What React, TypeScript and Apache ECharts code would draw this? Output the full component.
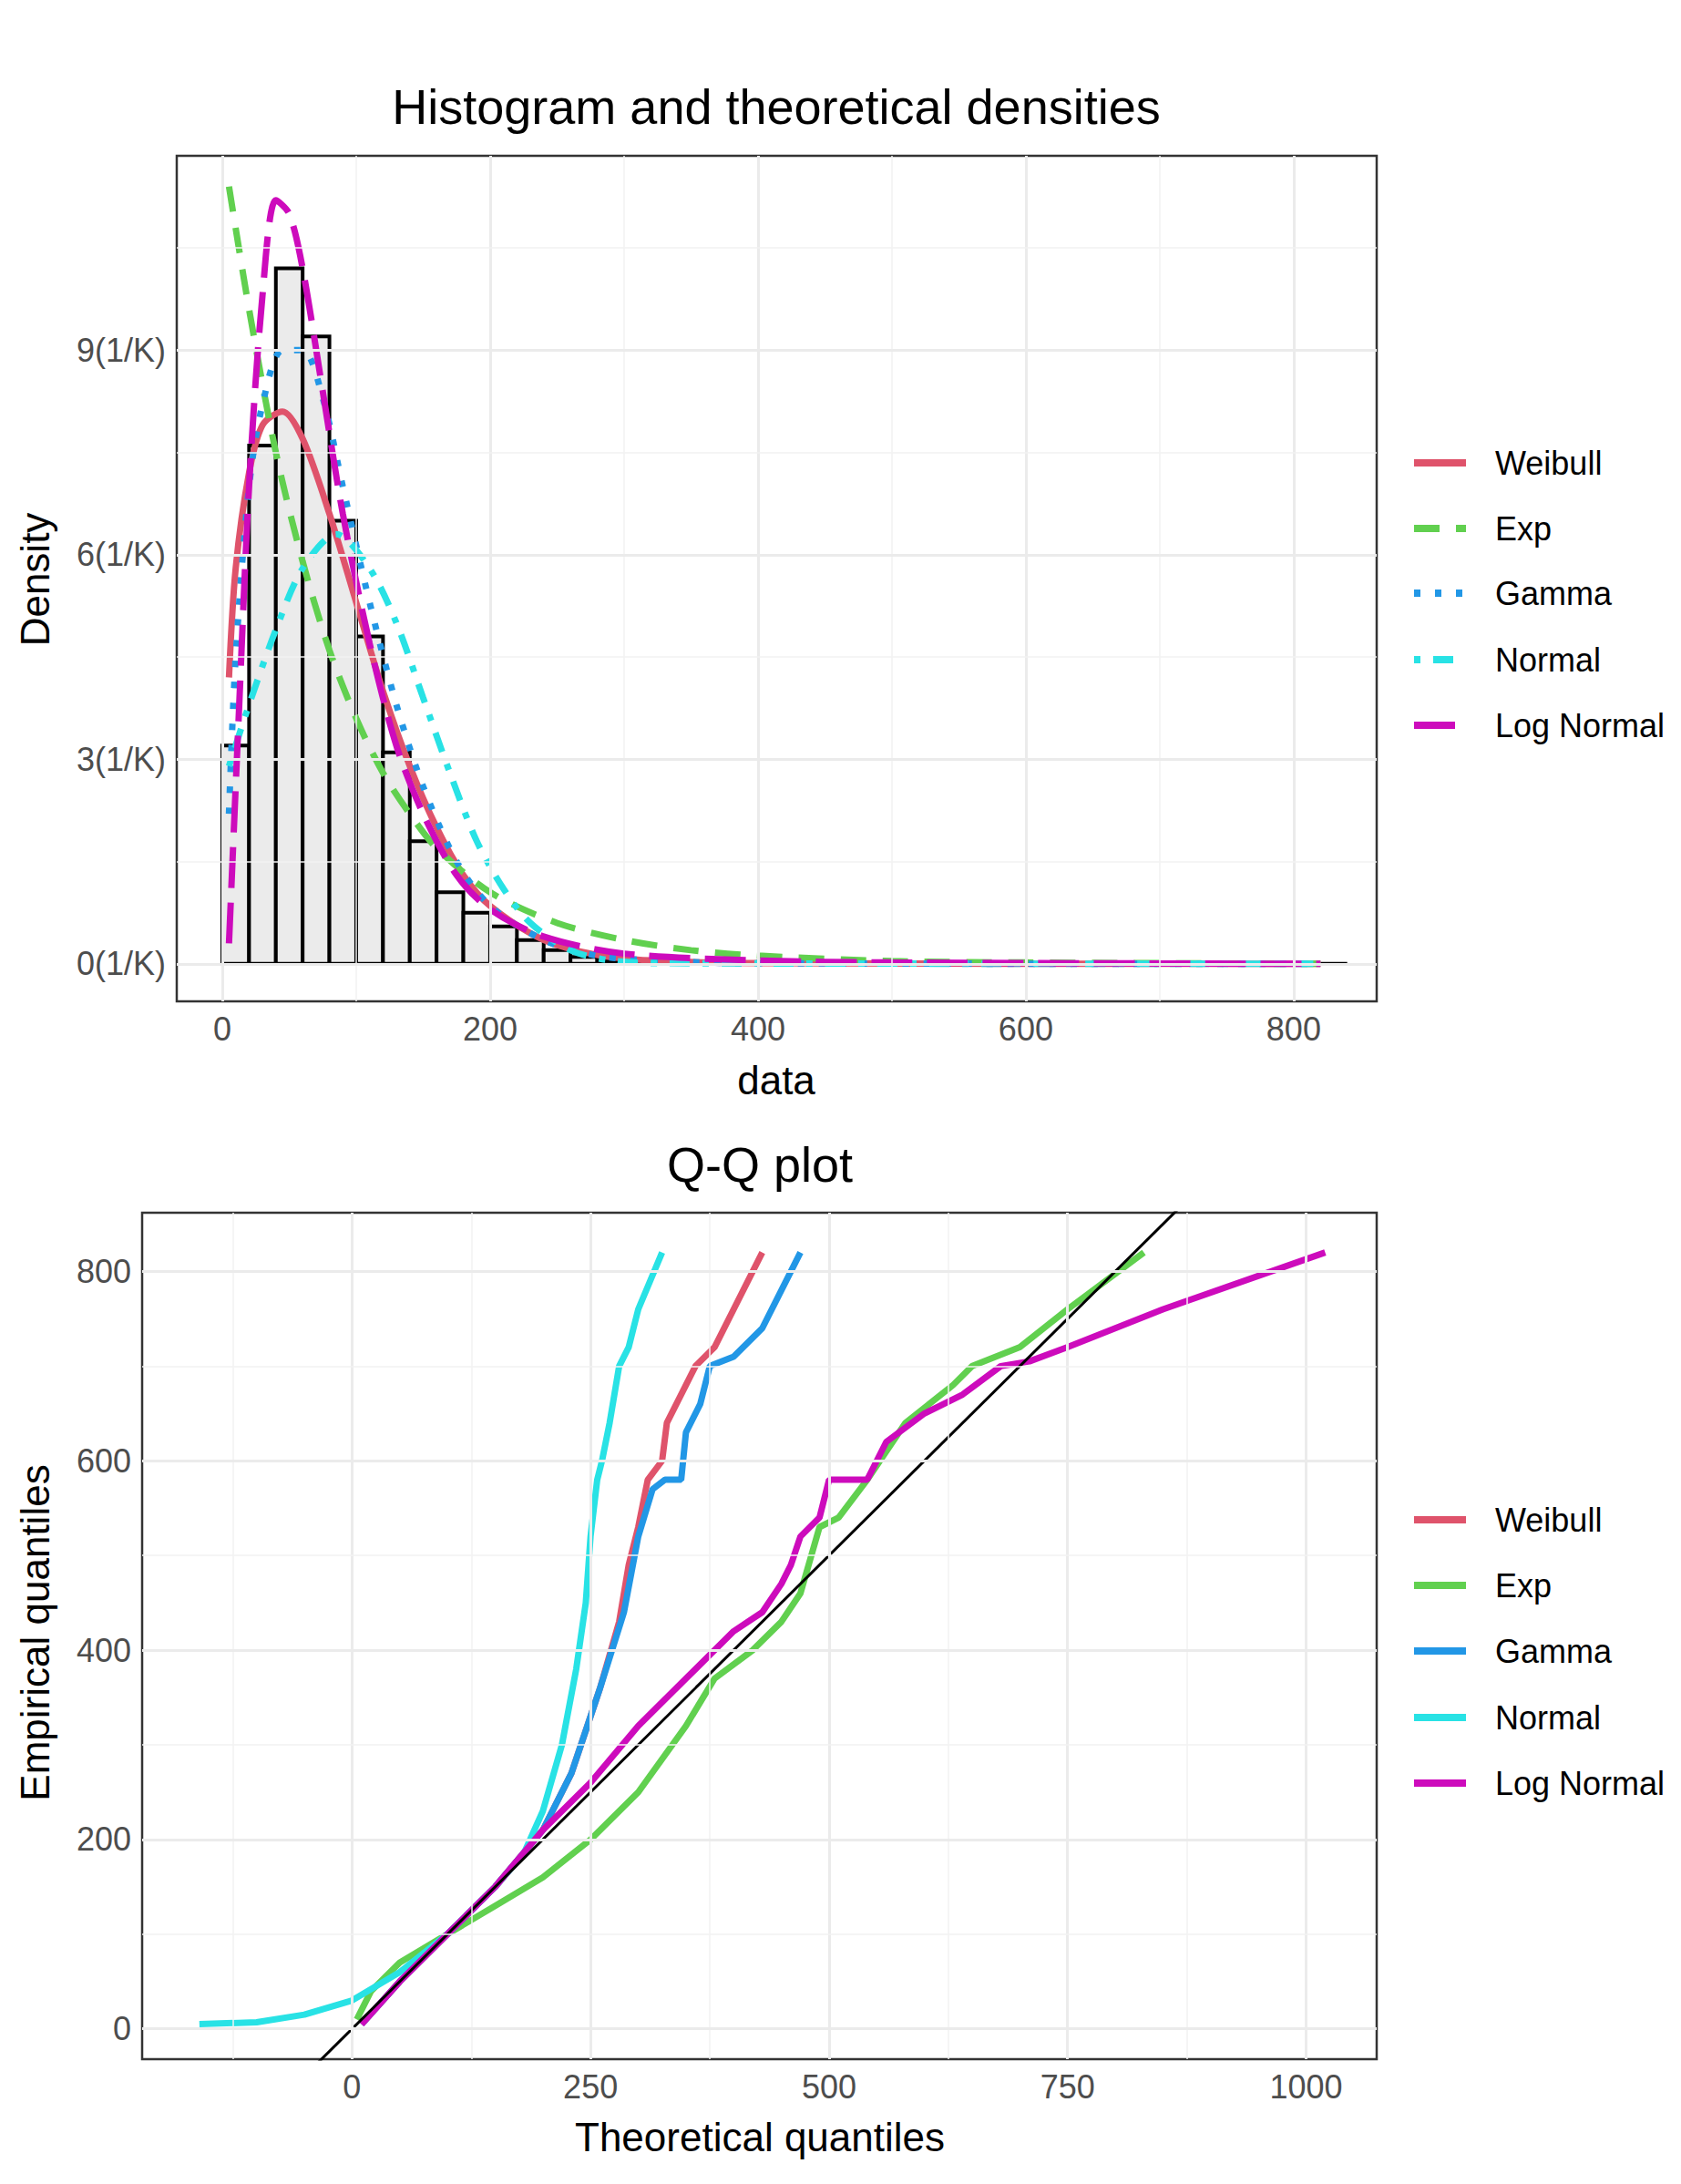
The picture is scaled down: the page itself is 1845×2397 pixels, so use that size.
import { useEffect, useRef } from 'react';
import * as echarts from 'echarts';

// histogram bins (width 20, density in 1/K)
const binStarts = Array.from({ length: 42 }, (_, i) => i * 20);
const binHeights = [3.2, 7.6, 10.2, 9.2, 6.5, 4.8, 3.1, 1.8, 1.05, 0.75, 0.55, 0.35, 0.2, 0.1, 0.05,
  0.03, 0.02, 0.02, 0.01, 0.01, 0, 0, 0, 0, 0, 0, 0, 0, 0, 0, 0, 0, 0, 0, 0, 0, 0, 0, 0, 0, 0, 0];

const weibullDens = [[5, 4.2], [10, 5.8], [20, 7.2], [30, 7.9], [45, 8.1], [60, 7.7], [80, 6.6], [100, 5.3], [120, 4.0], [140, 2.9], [160, 2.0], [180, 1.3], [200, 0.85], [240, 0.35], [280, 0.13], [320, 0.05], [400, 0.01], [820, 0]];
const expDens = [[5, 11.4], [20, 9.6], [40, 7.5], [60, 5.9], [80, 4.6], [100, 3.6], [120, 2.8], [140, 2.2], [160, 1.7], [200, 1.05], [250, 0.6], [300, 0.35], [350, 0.2], [400, 0.12], [500, 0.04], [600, 0.02], [820, 0]];
const gammaDens = [[5, 2.2], [10, 4.5], [20, 7.0], [30, 8.2], [45, 9.0], [60, 9.0], [75, 8.3], [90, 7.0], [110, 5.3], [130, 3.8], [150, 2.6], [175, 1.5], [200, 0.85], [240, 0.35], [280, 0.12], [330, 0.04], [400, 0.01], [820, 0]];
const normalDens = [[5, 2.9], [20, 3.8], [40, 4.9], [60, 5.8], [85, 6.3], [110, 5.8], [130, 5.0], [150, 3.9], [170, 2.8], [190, 1.8], [210, 1.1], [230, 0.6], [260, 0.2], [290, 0.05], [330, 0.01], [820, 0]];
const lnormDens = [[5, 0.3], [12, 3.5], [20, 7.0], [30, 9.8], [40, 11.2], [50, 11.0], [60, 10.2], [75, 8.4], [90, 6.6], [110, 4.7], [130, 3.2], [150, 2.2], [175, 1.3], [200, 0.8], [240, 0.4], [300, 0.15], [400, 0.05], [500, 0.02], [820, 0]];

// Q-Q: [theoretical, empirical]
const qqNormal = [[-160, 5], [-100, 7], [-50, 15], [0, 30], [50, 60], [100, 100], [150, 150], [180, 185], [200, 230], [220, 300], [235, 380], [245, 450], [250, 520], [257, 580], [262, 600], [270, 640], [280, 700], [290, 720], [300, 760], [325, 820]];
const qqWeibull = [[10, 5], [50, 50], [100, 100], [150, 150], [200, 210], [230, 270], [260, 360], [280, 430], [290, 490], [300, 530], [310, 580], [325, 600], [330, 640], [350, 680], [360, 700], [380, 720], [400, 760], [430, 820]];
const qqGamma = [[10, 5], [50, 50], [100, 100], [150, 150], [200, 210], [230, 270], [260, 360], [285, 440], [300, 520], [315, 570], [328, 580], [345, 580], [350, 630], [365, 660], [375, 700], [400, 710], [430, 740], [470, 820]];
const qqExp = [[5, 10], [20, 40], [50, 70], [100, 100], [150, 130], [200, 160], [250, 200], [300, 250], [350, 320], [380, 370], [420, 400], [450, 430], [470, 460], [490, 530], [510, 540], [540, 580], [580, 640], [630, 680], [650, 700], [700, 720], [750, 760], [830, 820]];
const qqLnorm = [[10, 5], [50, 50], [100, 100], [150, 150], [200, 210], [250, 260], [300, 320], [350, 370], [400, 420], [430, 440], [450, 470], [460, 490], [470, 520], [490, 540], [500, 580], [540, 580], [560, 620], [600, 650], [640, 670], [680, 700], [710, 705], [750, 720], [850, 760], [1020, 820]];
const qqRef = [[-220, -220], [1074, 1074]];

const legendNames = ['Weibull', 'Exp', 'Gamma', 'Normal', 'Log Normal'];
const colors = ['#DF536B', '#61D04F', '#2297E6', '#28E2E5', '#CD0BBC'];
const densDash: any[] = ['solid', [28, 18], [7, 16], [7, 14, 22, 14], [45, 16]];

const densX = [0, 200, 400, 600, 800];
const densY = [0, 3, 6, 9];
const qqX = [0, 250, 500, 750, 1000];
const qqY = [0, 200, 400, 600, 800];

const FONT = 'Liberation Sans';

export default function App() {
  const ref = useRef<HTMLDivElement>(null);

  useEffect(() => {
    document.body.style.margin = '0';
    if (!ref.current) return;
    const chart = echarts.init(ref.current, null, { renderer: 'svg' });

    const gridLines = (axis: 'xAxis' | 'yAxis', major: number[], minor: number[], idx: number) => ({
      type: 'line', xAxisIndex: idx, yAxisIndex: idx, data: [], silent: true,
      markLine: {
        silent: true, symbol: 'none', label: { show: false }, animation: false,
        data: [
          ...minor.map((v) => ({ [axis]: v, lineStyle: { color: '#F2F2F2', width: 1.5, type: 'solid' } })),
          ...major.map((v) => ({ [axis]: v, lineStyle: { color: '#EBEBEB', width: 3, type: 'solid' } })),
        ],
      },
    });

    const axisCommon = (vals: number[], fmt: (v: number) => string) => ({
      type: 'value',
      splitLine: { show: false },
      axisLine: { show: false },
      axisTick: { show: true, customValues: vals, length: 9, lineStyle: { color: '#333', width: 2.5 } },
      axisLabel: { customValues: vals, formatter: fmt, color: '#4D4D4D', fontSize: 36, fontFamily: FONT, margin: 12 },
    });

    const legend = (ys: number[], dashes: any[]) =>
      legendNames.flatMap((n, i) => [
        { type: 'line', shape: { x1: 1552, y1: ys[i], x2: 1609, y2: ys[i] }, style: { stroke: colors[i], lineWidth: 8, lineDash: dashes[i] === 'solid' ? null : dashes[i] } },
        { type: 'text', x: 1641, y: ys[i], style: { text: n, fontSize: 36, fontFamily: FONT, fill: '#000', verticalAlign: 'middle' } },
      ]);

    const txt = (x: number, y: number, text: string, size: number, rotate = 0) => ({
      type: 'text', x, y, rotation: rotate,
      style: { text, fontSize: size, fontFamily: FONT, fill: '#000', align: 'center', verticalAlign: 'middle' },
    });

    const densSeries = [weibullDens, expDens, gammaDens, normalDens, lnormDens].map((d, i) => ({
      name: 'd-' + legendNames[i], type: 'line', xAxisIndex: 0, yAxisIndex: 0, data: d, symbol: 'none', smooth: 0.3,
      lineStyle: { color: colors[i], width: 7, type: densDash[i] },
    }));
    const qqSeries = [qqWeibull, qqExp, qqGamma, qqNormal, qqLnorm].map((d, i) => ({
      name: 'q-' + legendNames[i], type: 'line', xAxisIndex: 1, yAxisIndex: 1, data: d, symbol: 'none',
      lineStyle: { color: colors[i], width: 7 },
    }));

    chart.setOption({
      animation: false,
      backgroundColor: '#fff',
      grid: [
        { left: 194, top: 171, width: 1317, height: 928, show: true, borderColor: '#333', borderWidth: 2.5, backgroundColor: '#fff' },
        { left: 156, top: 1331, width: 1355, height: 929, show: true, borderColor: '#333', borderWidth: 2.5, backgroundColor: '#fff' },
      ],
      xAxis: [
        { ...axisCommon(densX, (v) => String(v)), gridIndex: 0, min: -34, max: 862 },
        { ...axisCommon(qqX, (v) => String(v)), gridIndex: 1, min: -220, max: 1074 },
      ],
      yAxis: [
        { ...axisCommon(densY, (v) => v + '(1/K)'), gridIndex: 0, min: -0.55, max: 11.85 },
        { ...axisCommon(qqY, (v) => String(v)), gridIndex: 1, min: -32, max: 862 },
      ],
      graphic: [
        txt(852, 117, 'Histogram and theoretical densities', 54),
        txt(852, 1185, 'data', 44),
        txt(38, 636, 'Density', 44, Math.PI / 2),
        txt(834, 1278, 'Q-Q plot', 54),
        txt(834, 2345, 'Theoretical quantiles', 44),
        txt(38, 1792, 'Empirical quantiles', 44, Math.PI / 2),
        ...legend([508, 580, 651, 724, 796], densDash),
        ...legend([1668, 1740, 1812, 1885, 1957], ['solid', 'solid', 'solid', 'solid', 'solid']),
      ],
      series: [
        gridLines('xAxis', densX, [100, 300, 500, 700], 0),
        gridLines('yAxis', densY, [1.5, 4.5, 7.5, 10.5], 0),
        gridLines('xAxis', qqX, [-125, 125, 375, 625, 875], 1),
        gridLines('yAxis', qqY, [100, 300, 500, 700], 1),
        {
          type: 'custom', xAxisIndex: 0, yAxisIndex: 0,
          data: binStarts.map((s, i) => [s, s + 20, binHeights[i]]),
          renderItem: (_p: any, api: any) => {
            const a = api.coord([api.value(0), api.value(2)]);
            const b = api.coord([api.value(1), 0]);
            return {
              type: 'rect',
              shape: { x: a[0], y: a[1], width: b[0] - a[0], height: b[1] - a[1] },
              style: { fill: '#EBEBEB', stroke: '#000', lineWidth: 4 },
            };
          },
        },
        ...densSeries,
        ...qqSeries,
        { type: 'line', xAxisIndex: 1, yAxisIndex: 1, data: qqRef, symbol: 'none', lineStyle: { color: '#000', width: 3 } },
      ],
    });

    return () => chart.dispose();
  }, []);

  return <div ref={ref} style={{ width: 1845, height: 2397 }} />;
}
